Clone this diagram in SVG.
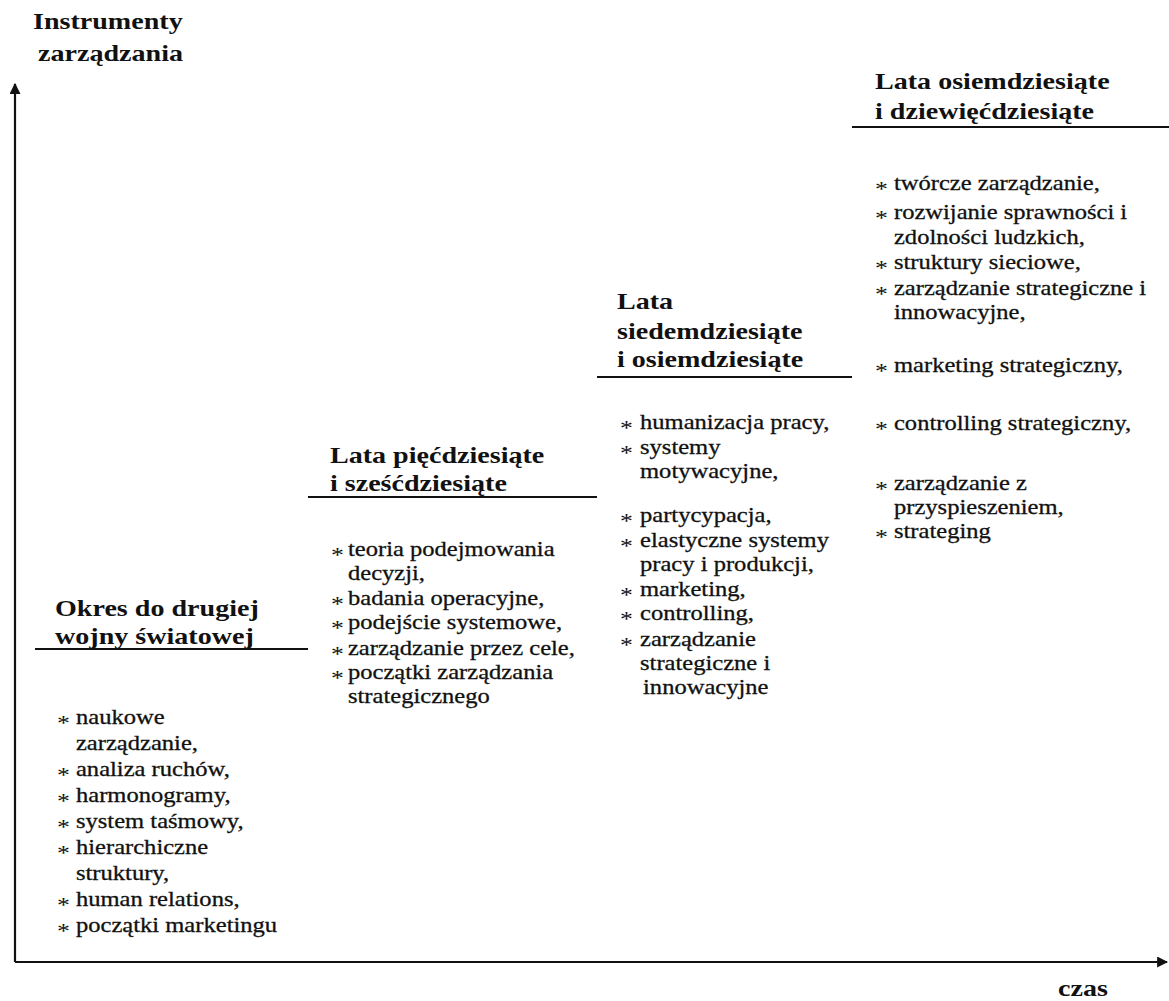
<svg xmlns="http://www.w3.org/2000/svg" width="1169" height="1001" viewBox="0 0 1169 1001">
  <style>
    text { font-family: "Liberation Serif", "Times New Roman", serif; fill: #111; }
    .h { font-size: 24px; font-weight: bold; }
    .t { font-size: 21px; stroke: #111; stroke-width: 0.3; }
    .s { font-size: 22px; }
    .rule { stroke: #111; stroke-width: 2; fill: none; }
    .axis { stroke: #111; stroke-width: 2.2; fill: none; }
  </style>
  <defs>
    <marker id="arrow" viewBox="0 0 10 10" refX="9" refY="5" markerWidth="5" markerHeight="5" orient="auto-start-reverse" markerUnits="strokeWidth">
      <path d="M0,0 L10,5 L0,10 z" fill="#111"/>
    </marker>
  </defs>

  <!-- axes -->
  <g id="connectors">
    <line class="axis" x1="15" y1="962" x2="15" y2="84" marker-end="url(#arrow)"/>
    <line class="axis" x1="15" y1="962" x2="1167" y2="962" marker-end="url(#arrow)"/>
  </g>

  <!-- the printed type is slightly wide, so each text block is stretched horizontally by 1.17 -->
  <g id="axis-labels">
    <g transform="matrix(1.17 0 0 1 33 0)">
      <text class="h" x="0" y="29">Instrumenty</text>
      <text class="h" x="4.3" y="61">zarządzania</text>
    </g>
    <g transform="matrix(1.17 0 0 1 1058 0)">
      <text class="h" x="0" y="996">czas</text>
    </g>
  </g>

  <!-- period 1 -->
  <g id="period-1">
    <line class="rule" x1="35" y1="649" x2="308" y2="649"/>
    <g transform="matrix(1.17 0 0 1 57 0)">
      <text class="h" x="-1.7" y="616">Okres do drugiej</text>
      <text class="h" x="-1.7" y="644">wojny światowej</text>
      <text class="s" x="0" y="730">*</text><text class="t" x="16.2" y="724">naukowe</text>
      <text class="t" x="16.2" y="750">zarządzanie,</text>
      <text class="s" x="0" y="782">*</text><text class="t" x="16.2" y="776">analiza ruchów,</text>
      <text class="s" x="0" y="808">*</text><text class="t" x="16.2" y="802">harmonogramy,</text>
      <text class="s" x="0" y="834">*</text><text class="t" x="16.2" y="828">system taśmowy,</text>
      <text class="s" x="0" y="860">*</text><text class="t" x="16.2" y="854">hierarchiczne</text>
      <text class="t" x="16.2" y="880">struktury,</text>
      <text class="s" x="0" y="912">*</text><text class="t" x="16.2" y="906">human relations,</text>
      <text class="s" x="0" y="938">*</text><text class="t" x="16.2" y="932">początki marketingu</text>
    </g>
  </g>

  <!-- period 2 -->
  <g id="period-2">
    <line class="rule" x1="308" y1="497" x2="597" y2="497"/>
    <g transform="matrix(1.17 0 0 1 331 0)">
      <text class="h" x="-0.9" y="463">Lata pięćdziesiąte</text>
      <text class="h" x="-0.9" y="491">i sześćdziesiąte</text>
      <text class="s" x="0" y="562">*</text><text class="t" x="14.5" y="556">teoria podejmowania</text>
      <text class="t" x="14.5" y="580">decyzji,</text>
      <text class="s" x="0" y="611">*</text><text class="t" x="14.5" y="605">badania operacyjne,</text>
      <text class="s" x="0" y="635">*</text><text class="t" x="14.5" y="629">podejście systemowe,</text>
      <text class="s" x="0" y="661">*</text><text class="t" x="14.5" y="655">zarządzanie przez cele,</text>
      <text class="s" x="0" y="685">*</text><text class="t" x="14.5" y="679">początki zarządzania</text>
      <text class="t" x="14.5" y="703">strategicznego</text>
    </g>
  </g>

  <!-- period 3 -->
  <g id="period-3">
    <line class="rule" x1="597" y1="377" x2="852" y2="377"/>
    <g transform="matrix(1.17 0 0 1 620 0)">
      <text class="h" x="-2.6" y="309">Lata</text>
      <text class="h" x="-2.6" y="339">siedemdziesiąte</text>
      <text class="h" x="-2.6" y="367">i osiemdziesiąte</text>
      <text class="s" x="0" y="435">*</text><text class="t" x="17.1" y="429">humanizacja pracy,</text>
      <text class="s" x="0" y="460">*</text><text class="t" x="17.1" y="454">systemy</text>
      <text class="t" x="17.1" y="478">motywacyjne,</text>
      <text class="s" x="0" y="528">*</text><text class="t" x="17.1" y="522">partycypacja,</text>
      <text class="s" x="0" y="553">*</text><text class="t" x="17.1" y="547">elastyczne systemy</text>
      <text class="t" x="17.1" y="571">pracy i produkcji,</text>
      <text class="s" x="0" y="602">*</text><text class="t" x="17.1" y="596">marketing,</text>
      <text class="s" x="0" y="626">*</text><text class="t" x="17.1" y="620">controlling,</text>
      <text class="s" x="0" y="652">*</text><text class="t" x="17.1" y="646">zarządzanie</text>
      <text class="t" x="17.1" y="670">strategiczne i</text>
      <text class="t" x="19.7" y="694">innowacyjne</text>
    </g>
  </g>

  <!-- period 4 -->
  <g id="period-4">
    <line class="rule" x1="852" y1="127" x2="1169" y2="127"/>
    <g transform="matrix(1.17 0 0 1 875 0)">
      <text class="h" x="0" y="89">Lata osiemdziesiąte</text>
      <text class="h" x="0" y="119">i dziewięćdziesiąte</text>
      <text class="s" x="0" y="196">*</text><text class="t" x="16.2" y="190">twórcze zarządzanie,</text>
      <text class="s" x="0" y="225">*</text><text class="t" x="16.2" y="219">rozwijanie sprawności i</text>
      <text class="t" x="16.2" y="244">zdolności ludzkich,</text>
      <text class="s" x="0" y="275">*</text><text class="t" x="16.2" y="269">struktury sieciowe,</text>
      <text class="s" x="0" y="301">*</text><text class="t" x="16.2" y="295">zarządzanie strategiczne i</text>
      <text class="t" x="16.2" y="319">innowacyjne,</text>
      <text class="s" x="0" y="378">*</text><text class="t" x="16.2" y="372">marketing strategiczny,</text>
      <text class="s" x="0" y="436">*</text><text class="t" x="16.2" y="430">controlling strategiczny,</text>
      <text class="s" x="0" y="496">*</text><text class="t" x="16.2" y="490">zarządzanie z</text>
      <text class="t" x="16.2" y="514">przyspieszeniem,</text>
      <text class="s" x="0" y="544">*</text><text class="t" x="16.2" y="538">strateging</text>
    </g>
  </g>
</svg>
